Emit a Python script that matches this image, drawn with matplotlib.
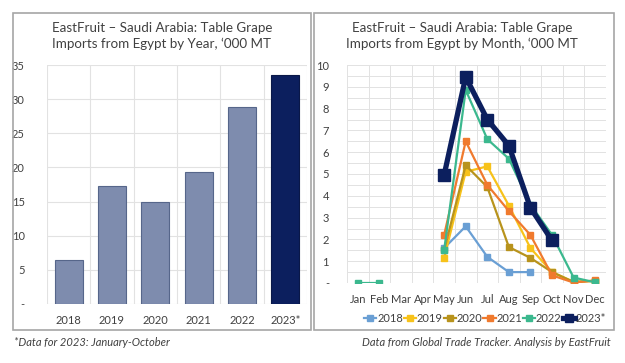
import matplotlib
matplotlib.use("Agg")
import matplotlib.pyplot as plt
import numpy as np
from matplotlib.patches import Rectangle
from matplotlib.ticker import MultipleLocator, FixedLocator

plt.rcParams['font.family'] = ['Lato', 'DejaVu Sans']

# ---- data ----
years = ["2018", "2019", "2020", "2021", "2022", "2023*"]
annual = [6.4, 17.3, 15.0, 19.3, 28.8, 33.5]

months = ["Jan", "Feb", "Mar", "Apr", "May", "Jun", "Jul", "Aug", "Sep", "Oct", "Nov", "Dec"]
nan = np.nan
m2018 = [nan, nan, nan, nan, 1.6, 2.6, 1.2, 0.5, 0.5, nan, nan, nan]
m2019 = [nan, nan, nan, nan, 1.15, 5.1, 5.35, 3.55, 1.6, 0.5, 0.05, 0.1]
m2020 = [nan, nan, nan, nan, 1.5, 5.4, 4.4, 1.65, 1.15, 0.5, 0.05, 0.1]
m2021 = [nan, nan, nan, nan, 2.2, 6.5, 4.5, 3.3, 2.2, 0.35, 0.02, 0.12]
m2022 = [0.0, 0.0, nan, nan, 1.5, 8.85, 6.6, 5.7, 3.6, 2.2, 0.25, 0.03]
m2023 = [nan, nan, nan, nan, 4.95, 9.45, 7.5, 6.3, 3.45, 1.95, nan, nan]
series = [("2018", m2018), ("2019", m2019), ("2020", m2020),
          ("2021", m2021), ("2022", m2022), ("2023*", m2023)]
colors = ["#6a9fd4", "#f7c21a", "#b8931c", "#f07a2e", "#3bb88e", "#0c1f5e"]

W, H = 625, 363
fig = plt.figure(figsize=(W / 100, H / 100), dpi=100)
fig.patch.set_facecolor("white")

def fx(px):
    return px / W

def fy(py):
    return 1 - py / H

# panel frames
for x0, x1 in [(13, 311), (314, 614)]:
    fig.patches.append(Rectangle((fx(x0), fy(330)), fx(x1 - x0), (330 - 13) / H,
                                 transform=fig.transFigure, fill=False,
                                 edgecolor="#a6a6a6", linewidth=1.2))

title_color = "#404040"
tick_color = "#404040"
grid_color = "#e2e2e2"

# ---- left chart ----
axL = fig.add_axes([fx(47), fy(304), fx(307 - 47), (304 - 65) / H])
x = np.arange(len(years))
bar_colors = ["#7e8cae"] * 5 + ["#0c1f5e"]
edge_colors = ["#56668a"] * 5 + ["#0a1848"]
axL.bar(x, annual, width=0.65, color=bar_colors, edgecolor=edge_colors, linewidth=0.8, zorder=3)
axL.set_xlim(-0.5, len(years) - 0.5)
axL.set_ylim(0, 35)
axL.yaxis.set_major_locator(MultipleLocator(5))
axL.set_yticklabels(["-" if v == 0 else f"{int(v)}" for v in axL.get_yticks()])
axL.set_xticks(x)
axL.set_xticklabels(years)
axL.xaxis.set_minor_locator(FixedLocator(np.arange(-0.5, len(years), 1.0)))
axL.grid(True, axis="y", which="major", color=grid_color, linewidth=0.8, zorder=0)
axL.grid(True, axis="x", which="minor", color=grid_color, linewidth=0.8, zorder=0)
for s in axL.spines.values():
    s.set_visible(False)
axL.tick_params(axis="both", which="both", length=0, colors=tick_color, labelsize=8)
axL.tick_params(axis="y", pad=16)
axL.tick_params(axis="x", pad=8)
fig.text(fx(162), fy(36), "EastFruit – Saudi Arabia: Table Grape\nImports from Egypt by Year, ‘000 MT",
         ha="center", va="center", fontsize=9.6, color=title_color, linespacing=1.3)

# ---- right chart ----
axR = fig.add_axes([fx(347), fy(283), fx(606 - 347), (283 - 65) / H])
mx = np.arange(len(months))
for (name, vals), c in zip(series, colors):
    if name == "2023*":
        axR.plot(mx, vals, color=c, linewidth=3.8, marker="s", markersize=8, label=name, zorder=5)
    else:
        axR.plot(mx, vals, color=c, linewidth=1.6, marker="s", markersize=5, label=name, zorder=4)
axR.set_xlim(-0.5, len(months) - 0.5)
axR.set_ylim(0, 10)
axR.yaxis.set_major_locator(MultipleLocator(1))
axR.yaxis.set_minor_locator(MultipleLocator(0.5))
axR.set_yticklabels(["-" if v == 0 else f"{int(v)}" for v in axR.get_yticks()])
axR.set_xticks(mx)
axR.set_xticklabels(months)
axR.xaxis.set_minor_locator(FixedLocator(np.arange(-0.5, len(months), 1.0)))
axR.grid(True, axis="y", which="both", color=grid_color, linewidth=0.7, zorder=0)
axR.grid(True, axis="x", which="minor", color=grid_color, linewidth=0.7, zorder=0)
for s in axR.spines.values():
    s.set_visible(False)
axR.tick_params(axis="both", which="both", length=0, colors=tick_color, labelsize=8)
axR.tick_params(axis="y", pad=13)
axR.tick_params(axis="x", pad=8)
fig.text(fx(462), fy(36), "EastFruit – Saudi Arabia: Table Grape\nImports from Egypt by Month, ‘000 MT",
         ha="center", va="center", fontsize=9.6, color=title_color, linespacing=1.3)
leg = axR.legend(loc="center", bbox_to_anchor=(fx(485), fy(318)), bbox_transform=fig.transFigure,
                 ncol=6, frameon=False, fontsize=8, handlelength=1.1, handletextpad=0.05,
                 columnspacing=0.1, labelcolor=tick_color, markerscale=0.8, borderpad=0.1)

# ---- footnotes ----
fig.text(fx(14), fy(342), "*Data for 2023: January-October", ha="left", va="center",
         fontsize=8, style="italic", color="#404040")
fig.text(fx(611), fy(342), "Data from Global Trade Tracker. Analysis by EastFruit", ha="right",
         va="center", fontsize=8, style="italic", color="#404040")

fig.savefig("out.png", dpi=100, facecolor="white")
